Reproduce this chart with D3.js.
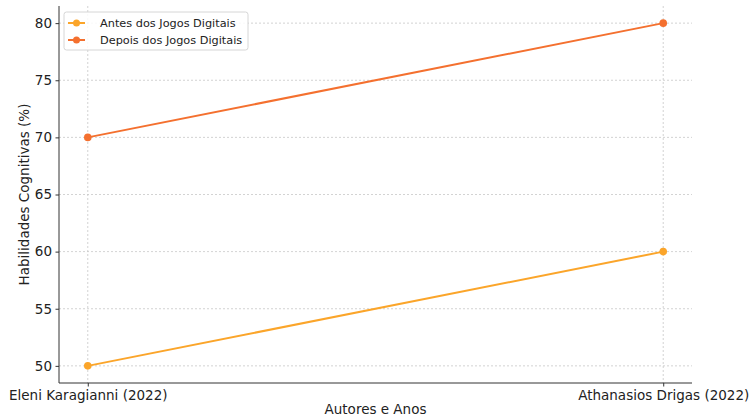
<!DOCTYPE html>
<html><head><meta charset="utf-8">
<script src="https://cdn.jsdelivr.net/npm/d3@7"></script>
<style>body{margin:0;background:#fff}svg{display:block}text{font-family:"DejaVu Sans",sans-serif}</style>
</head><body><svg id="c" width="750" height="417"></svg>
<script>
const categories = ["Eleni Karagianni (2022)", "Athanasios Drigas (2022)"];
const antes = [50, 60];
const depois = [70, 80];
const yTicks = [50, 55, 60, 65, 70, 75, 80];
const seriesNames = ["Antes dos Jogos Digitais", "Depois dos Jogos Digitais"];
const colors = ["#fba52a", "#f4702f"];

const svg = d3.select("#c");
const L = 59, R = 692, T = 6, B = 383;
// matplotlib-like 5% margins around the data span
const span = (R - L) / 1.1;
const xPos = d3.scaleOrdinal().domain(categories).range([L + span * 0.05, R - span * 0.05]);
const y = d3.scaleLinear().domain([48.5, 81.5]).range([B, T]);

const g = svg.append("g");
g.selectAll(".gy").data(yTicks).join("line")
  .attr("x1", L).attr("x2", R).attr("y1", d => y(d)).attr("y2", d => y(d))
  .attr("stroke", "#c8c8c8").attr("stroke-width", 0.8).attr("stroke-dasharray", "2,2");
g.selectAll(".gx").data(categories).join("line")
  .attr("x1", d => xPos(d)).attr("x2", d => xPos(d)).attr("y1", T).attr("y2", B)
  .attr("stroke", "#c8c8c8").attr("stroke-width", 0.8).attr("stroke-dasharray", "2,2");

const fs = 13.5;
const yAxis = d3.axisLeft(y).tickValues(yTicks).tickSize(3.5).tickPadding(3.5);
const ya = svg.append("g").attr("transform", `translate(${L},0)`).call(yAxis);
ya.select(".domain").attr("d", `M0,${T}V${B}`).attr("stroke", "#333").attr("stroke-width", 1);
ya.selectAll(".tick line").attr("stroke", "#333");
ya.selectAll(".tick text").attr("font-size", fs).attr("fill", "#222").attr("font-family", "DejaVu Sans");

const xAxis = d3.axisBottom(xPos).tickSize(3.5).tickPadding(3.5);
const xa = svg.append("g").attr("transform", `translate(0,${B})`).call(xAxis);
xa.select(".domain").attr("d", `M${L},0H${R}`).attr("stroke", "#333").attr("stroke-width", 1);
xa.selectAll(".tick line").attr("stroke", "#333");
xa.selectAll(".tick text").attr("font-size", fs).attr("fill", "#222").attr("font-family", "DejaVu Sans");

svg.append("text").attr("x", (L + R) / 2).attr("y", 414).attr("text-anchor", "middle")
  .attr("font-size", fs).attr("fill", "#222").text("Autores e Anos");
svg.append("text").attr("transform", `translate(29,${(T + B) / 2}) rotate(-90)`).attr("text-anchor", "middle")
  .attr("font-size", fs).attr("fill", "#222").text("Habilidades Cognitivas (%)");

const series = [antes, depois];
const line = d3.line().x((d, i) => xPos(categories[i])).y(d => y(d));
series.forEach((s, k) => {
  svg.append("path").datum(s).attr("d", line).attr("fill", "none")
    .attr("stroke", colors[k]).attr("stroke-width", 2);
  svg.selectAll(null).data(s).join("circle")
    .attr("cx", (d, i) => xPos(categories[i])).attr("cy", d => y(d)).attr("r", 3.8)
    .attr("fill", colors[k]);
});

const lg = svg.append("g").attr("transform", "translate(64,12)");
lg.append("rect").attr("width", 184).attr("height", 38).attr("rx", 2.5)
  .attr("fill", "#fff").attr("fill-opacity", 0.85).attr("stroke", "#d6d6d6");
seriesNames.forEach((n, k) => {
  const yy = 11 + k * 17;
  lg.append("line").attr("x1", 4).attr("x2", 21).attr("y1", yy).attr("y2", yy)
    .attr("stroke", colors[k]).attr("stroke-width", 2);
  lg.append("circle").attr("cx", 12.5).attr("cy", yy).attr("r", 3.5).attr("fill", colors[k]);
  lg.append("text").attr("x", 36).attr("y", yy + 4).attr("font-size", 11.3).attr("fill", "#222").text(n);
});
</script></body></html>
